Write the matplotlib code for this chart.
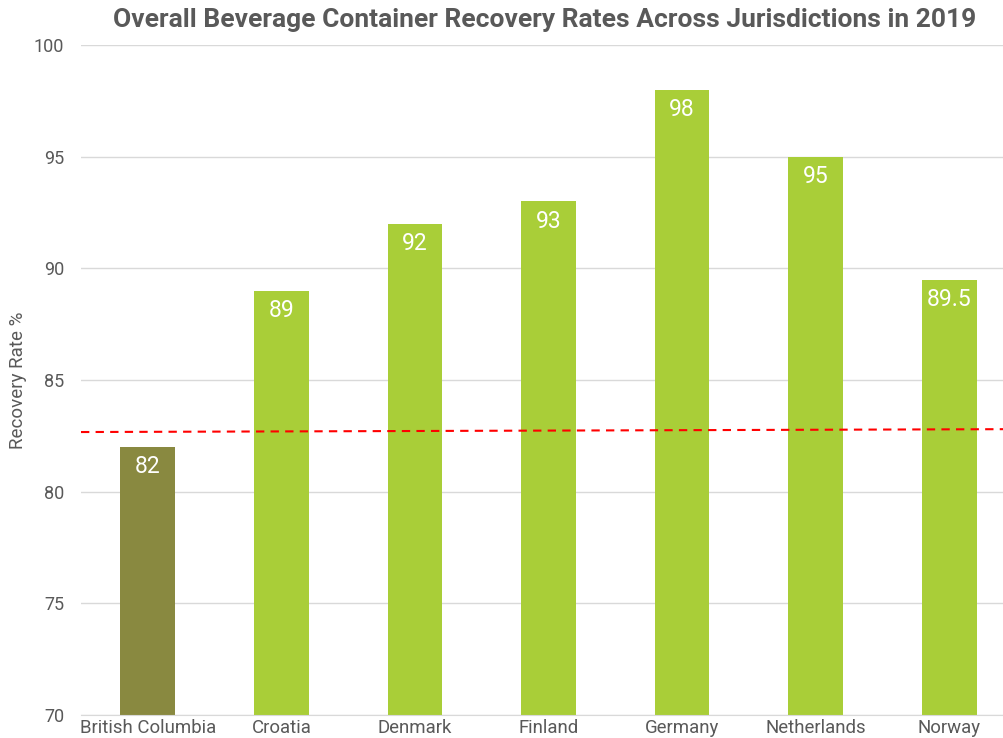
import matplotlib.pyplot as plt
import numpy as np

plt.rcParams['font.family'] = ['Roboto', 'DejaVu Sans']

jurisdictions = ['British Columbia', 'Croatia', 'Denmark', 'Finland',
                 'Germany', 'Netherlands', 'Norway']
recovery_rate = [82, 89, 92, 93, 98, 95, 89.5]
value_labels = ['82', '89', '92', '93', '98', '95', '89.5']
# dashed reference line, value at left and right edge of the plot
ref_line = [82.67, 82.8]

olive = '#898940'
green = '#a9ce38'
gray = '#595959'
colors = [olive] + [green] * (len(jurisdictions) - 1)

fig = plt.figure(figsize=(10.04, 7.38), dpi=100)
ax = fig.add_axes([81 / 1004, 1 - 715 / 738, (1016 - 81) / 1004, (715 - 45) / 738])

x = np.arange(len(jurisdictions))
bars = ax.bar(x, recovery_rate, width=0.41, color=colors, zorder=2)

for b, lab in zip(bars, value_labels):
    ax.annotate(lab, (b.get_x() + b.get_width() / 2, b.get_height()),
                xytext=(0, -6), textcoords='offset points',
                ha='center', va='top', color='white', fontsize=16.5, zorder=3)

ax.plot([-0.5, 6.5], ref_line, color='#ff0000', ls=(0, (4, 3)), lw=1.5, zorder=4)

ax.set_xlim(-0.5, 6.5)
ax.set_ylim(70, 100)
ax.set_yticks([70, 75, 80, 85, 90, 95, 100])
ax.set_xticks(x)
ax.set_xticklabels(jurisdictions)
ax.tick_params(axis='y', length=0, pad=12, labelsize=13, labelcolor=gray)
ax.tick_params(axis='x', length=0, pad=3, labelsize=13.4, labelcolor=gray)
ax.grid(axis='y', color='#d9d9d9', lw=1, zorder=0)
for s in ['top', 'right', 'left']:
    ax.spines[s].set_visible(False)
ax.spines['bottom'].set_color('#d9d9d9')

fig.text(18 / 1004, 1 - 380 / 738, 'Recovery Rate %', rotation=90,
         ha='center', va='center', fontsize=13.5, color=gray)
fig.text(545 / 1004, 1 - 20 / 738, 'Overall Beverage Container Recovery Rates Across Jurisdictions in 2019',
         ha='center', va='center', fontsize=19, fontweight='bold', color=gray)

fig.savefig('out.png', dpi=100)
